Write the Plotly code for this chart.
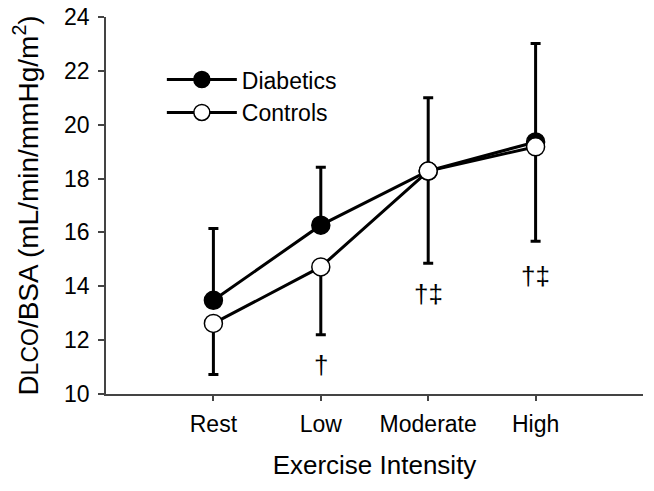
import plotly.graph_objects as go

categories = ["Rest", "Low", "Moderate", "High"]
diabetics_mean = [13.48, 16.27, 18.28, 19.36]
diabetics_upper = [16.15, 18.42, 21.0, 23.02]
controls_mean = [12.62, 14.72, 18.28, 19.18]
controls_lower = [10.72, 12.2, 14.86, 15.67]
sig_labels = ["†", "†‡", "†‡"]
sig_x = ["Low", "Moderate", "High"]
sig_y = [11.07, 13.72, 14.37]

FONT = "Liberation Sans, Arial, sans-serif"

fig = go.Figure()
fig.add_trace(go.Scatter(
    x=categories, y=diabetics_mean, name="Diabetics", mode="lines+markers",
    line=dict(color="black", width=3),
    marker=dict(size=18, color="black", line=dict(color="black", width=1.5)),
    error_y=dict(type="data", symmetric=False,
                 array=[u - m for u, m in zip(diabetics_upper, diabetics_mean)],
                 arrayminus=[0] * 4, color="black", thickness=3, width=5),
))
fig.add_trace(go.Scatter(
    x=categories, y=controls_mean, name="Controls", mode="lines+markers",
    line=dict(color="black", width=3),
    marker=dict(size=18, color="white", line=dict(color="black", width=1.5)),
    error_y=dict(type="data", symmetric=False, array=[0] * 4,
                 arrayminus=[m - l for m, l in zip(controls_mean, controls_lower)],
                 color="black", thickness=3, width=5),
))

for lab, xx, yy in zip(sig_labels, sig_x, sig_y):
    fig.add_annotation(x=xx, y=yy, text=lab, showarrow=False,
                       font=dict(family=FONT, size=26, color="black"),
                       xanchor="center", yanchor="middle")

fig.update_layout(
    width=654, height=491,
    margin=dict(l=98, r=19, t=9, b=105),
    plot_bgcolor="white", paper_bgcolor="white",
    font=dict(family=FONT, color="black"),
    showlegend=True,
    legend=dict(x=0.104, y=0.891, xanchor="left", yanchor="top",
                font=dict(size=23, family=FONT), bgcolor="rgba(0,0,0,0)",
                itemwidth=70, tracegroupgap=0),
    xaxis=dict(range=[-1, 4], showline=True, linecolor="#444", linewidth=1.5,
               ticks="outside", ticklen=5, tickwidth=1.5, tickcolor="#444",
               tickfont=dict(size=23), showgrid=False, zeroline=False,
               ticklabelstandoff=4, automargin=False, ticklabeloverflow="allow",
               title=dict(text="Exercise Intensity", font=dict(size=26), standoff=19)),
    yaxis=dict(range=[10, 24], dtick=2, showline=True, linecolor="#444", linewidth=1.5,
               ticks="outside", ticklen=6, tickwidth=1.5, tickcolor="#444",
               tickfont=dict(size=23), showgrid=False, zeroline=False,
               ticklabelstandoff=4, automargin=False, ticklabeloverflow="allow",
               title=dict(text="D<span style='font-size:23px'>LCO</span>/BSA (mL/min/mmHg/m<sup>2</sup>)",
                          font=dict(size=28), standoff=18)),
)

fig.write_html("out.html")
